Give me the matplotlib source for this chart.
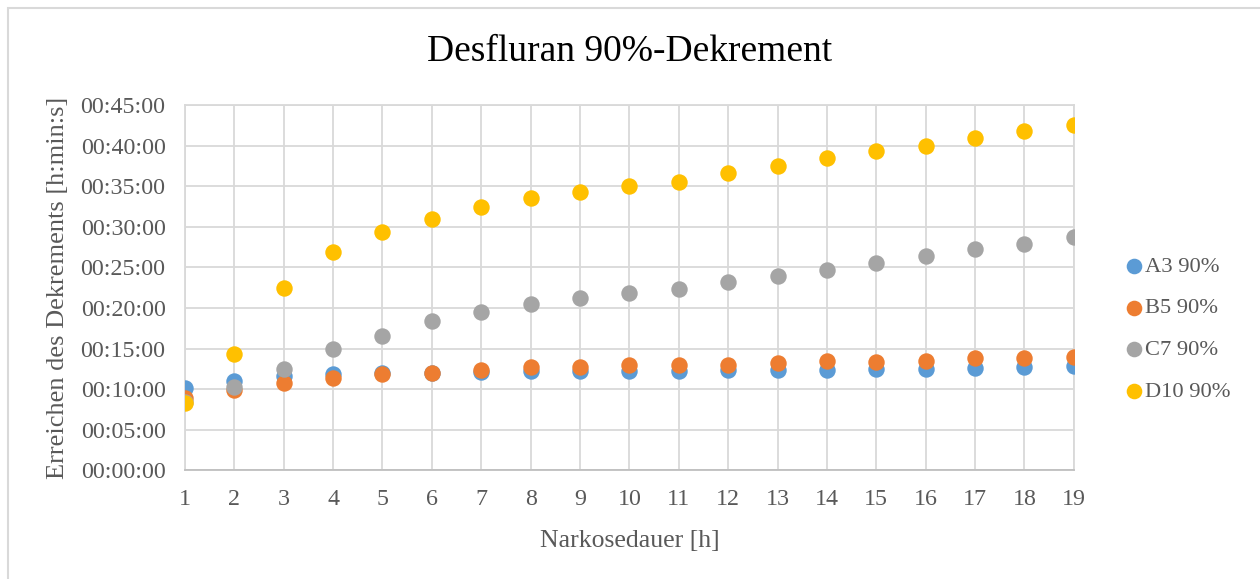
import matplotlib.pyplot as plt
from matplotlib.ticker import FuncFormatter, MultipleLocator
from matplotlib.patches import Rectangle

# Narkosedauer in Stunden
hours = list(range(1, 20))

# Zeit bis 90%-Dekrement in Minuten
a3 = [10.2, 11.0, 11.6, 11.9, 12.0, 12.05, 12.1, 12.2, 12.3, 12.3, 12.3,
      12.4, 12.4, 12.4, 12.5, 12.5, 12.65, 12.75, 12.85]
b5 = [8.9, 9.9, 10.75, 11.4, 11.9, 12.0, 12.4, 12.7, 12.7, 12.95, 12.95,
      13.0, 13.2, 13.5, 13.4, 13.45, 13.8, 13.85, 14.0]
c7 = [8.4, 10.3, 12.5, 14.9, 16.6, 18.4, 19.5, 20.55, 21.2, 21.9, 22.4,
      23.2, 23.9, 24.7, 25.5, 26.4, 27.25, 27.9, 28.8]
d10 = [8.3, 14.3, 22.5, 26.9, 29.3, 31.0, 32.5, 33.5, 34.3, 35.05, 35.5,
       36.6, 37.5, 38.5, 39.3, 40.0, 40.9, 41.8, 42.5]

series = [("A3 90%", a3, "#5B9BD5"),
          ("B5 90%", b5, "#ED7D31"),
          ("C7 90%", c7, "#A5A5A5"),
          ("D10 90%", d10, "#FFC000")]

plt.rcParams['font.family'] = ['Liberation Serif', 'DejaVu Serif']
text_col = '#595959'

fig = plt.figure(figsize=(12.6, 5.79), dpi=100)
ax = fig.add_axes([0.1468, 0.1874, 0.8522 - 0.1468, 0.8187 - 0.1874])

for label, vals, col in series:
    ax.scatter(hours, vals, s=140, color=col, label=label, zorder=3, linewidths=0)

def hms(v, pos):
    s = int(round(v * 60))
    return "%02d:%02d:%02d" % (s // 3600, (s % 3600) // 60, s % 60)

ax.yaxis.set_major_formatter(FuncFormatter(hms))
ax.yaxis.set_major_locator(MultipleLocator(5))
ax.set_ylim(0, 45)
ax.set_xlim(1, 19)
ax.set_xticks(hours)

ax.grid(True, color='#d9d9d9', linewidth=1.3, zorder=0)
ax.set_axisbelow(True)
for side in ['top', 'right', 'left']:
    ax.spines[side].set_color('#d9d9d9')
    ax.spines[side].set_linewidth(1.3)
ax.spines['bottom'].set_color('#bfbfbf')
ax.spines['bottom'].set_linewidth(1.3)

ax.tick_params(length=0, labelsize=17.3, labelcolor=text_col)
ax.tick_params(axis='y', pad=14)
ax.tick_params(axis='x', pad=13)

ax.set_xlabel("Narkosedauer [h]", fontsize=18.5, color=text_col, labelpad=15)
ax.set_ylabel("Erreichen des Dekrements [h:min:s]", fontsize=19, color=text_col, labelpad=8)
fig.text(0.5, 1 - 52 / 579, "Desfluran 90%-Dekrement", ha='center', va='center',
         fontsize=27, color='black')

ax.legend(loc='center left', bbox_to_anchor=(0.884, 0.432), bbox_transform=fig.transFigure,
          frameon=False, fontsize=16.2, labelcolor=text_col, handletextpad=0.0,
          labelspacing=0.93, borderaxespad=0, handlelength=1.0, markerscale=0.95)

# chart border (Excel style)
fig.patches.append(Rectangle((8 / 1260, -0.1), 1.2, 1 - 8 / 579 + 0.1,
                             transform=fig.transFigure, fill=False,
                             edgecolor='#d9d9d9', linewidth=1.5))

fig.savefig("out.png", dpi=100)
